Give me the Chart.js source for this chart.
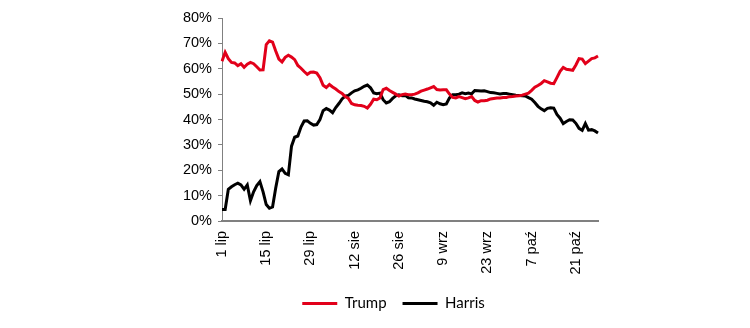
<!DOCTYPE html>
<html>
<head>
<meta charset="utf-8">
<script src="https://cdn.jsdelivr.net/npm/chart.js@4"></script>
<style>
  body { margin: 0; background: #fff; }
</style>
</head>
<body>
<canvas id="chart" width="750" height="328"></canvas>
<script>
// daily poll average, 1 lip - 28 paź
const months = [['lip', 31], ['sie', 31], ['wrz', 30], ['paź', 28]];
const tickEvery = 14;

const trump = [
  63, 66.5, 64, 62.5, 62.3, 61.2, 62, 60.6, 61.8, 62.5,
  62, 60.8, 59.5, 59.6, 69.5, 71, 70.5, 67, 63.8, 62.7,
  64.5, 65.3, 64.6, 63.6, 61.3, 60.2, 58.9, 57.8, 58.6, 58.7,
  58.3, 56.5, 53.5, 52.6, 53.8, 52.8, 52, 51, 50.3, 49,
  48.3, 46.3, 45.8, 45.6, 45.5, 45.2, 44.5, 46, 48, 47.8,
  48.5, 51.8, 52.3, 51.4, 50.7, 50, 49.2, 49.8, 50, 49.8,
  49.8, 50, 50.5, 51.2, 51.6, 52, 52.5, 53, 51.8, 51.6,
  51.7, 51.7, 50, 48.7, 48.5, 49, 48.6, 48.2, 48.5, 49,
  47.5, 46.9, 47.4, 47.4, 47.6, 48.1, 48.3, 48.5, 48.5, 48.7,
  48.7, 49, 49.1, 49.3, 49.4, 49.6, 50, 50.4, 51.5, 52.7,
  53.4, 54.2, 55.3, 54.8, 54.3, 54.1, 56.5, 59, 60.5, 59.8,
  59.6, 59.4, 61.5, 64, 63.8, 62, 63, 64, 64.3, 65
];

const harris = [
  4.5, 4.5, 12.5, 13.5, 14.3, 14.9, 14.2, 12.5, 14.2, 8,
  11.5, 14, 15.5, 11.5, 6.5, 5, 5.5, 13, 19.5, 20.5,
  18.8, 18.2, 29.5, 33, 33.5, 37, 39.4, 39.5, 38.5, 37.8,
  38, 40, 43.5, 44.3, 43.7, 42.7, 44.7, 46.3, 48.1, 49.2,
  49.5, 50.5, 51.3, 51.7, 52.3, 53.1, 53.6, 52.5, 50.5, 50.2,
  50.4, 47.8, 46.5, 47, 48.3, 49.3, 49.7, 49.4, 49.5, 48.6,
  48.5, 48.1, 47.8, 47.5, 47.2, 47, 46.6, 45.6, 46.8, 46.2,
  45.8, 46.1, 48.5, 49.8, 49.8, 50, 50.5, 50.2, 50.4, 50.1,
  51.4, 51.3, 51.2, 51.3, 51, 50.6, 50.5, 50.3, 50.1, 50.2,
  50.2, 50, 49.8, 49.6, 49.5, 49.4, 49.3, 48.6, 48, 46.7,
  45.2, 44.2, 43.5, 44.4, 44.6, 44.5, 42, 40.5, 38.4, 39.2,
  39.9, 39.8, 38.5, 36.5, 35.7, 38.4, 35.8, 36, 35.5, 34.7
];

let days = [];
months.forEach(([name, count]) => {
  for (let d = 1; d <= count; d++) days.push(d + ' ' + name);
});

const tickFont = { family: 'Liberation Sans', size: 14.5 };
const axisColor = '#808080';

// legend sits a bit right of the canvas middle
const legendShift = {
  id: 'legendShift',
  afterLayout(chart) {
    chart.legend.left += 8.5;
    chart.legend.right += 8.5;
  }
};

new Chart(document.getElementById('chart'), {
  type: 'line',
  data: {
    labels: days,
    datasets: [
      { label: 'Trump', data: trump, borderColor: '#e2001a', backgroundColor: '#e2001a',
        borderWidth: 3, pointRadius: 0, tension: 0 },
      { label: 'Harris', data: harris, borderColor: '#000', backgroundColor: '#000',
        borderWidth: 3, pointRadius: 0, tension: 0 }
    ]
  },
  plugins: [legendShift],
  options: {
    responsive: false,
    animation: false,
    devicePixelRatio: 1,
    layout: { padding: { left: 172, right: 152, top: 18, bottom: 7 } },
    plugins: {
      legend: {
        position: 'bottom',
        labels: {
          usePointStyle: true,
          pointStyle: 'line',
          pointStyleWidth: 35,
          padding: 16,
          color: '#000',
          font: { family: 'Lato', size: 15 }
        }
      },
      tooltip: { enabled: false }
    },
    scales: {
      x: {
        grid: { display: false, drawTicks: false },
        border: { color: axisColor, width: 2 },
        ticks: {
          autoSkip: false,
          maxRotation: 90,
          minRotation: 90,
          padding: 10,
          color: '#000',
          font: tickFont,
          callback: (v, i) => (i % tickEvery === 0 ? days[i] : '')
        },
        afterFit: s => { s.height = 59; }
      },
      y: {
        min: 0,
        max: 80,
        ticks: { stepSize: 10, padding: 6, color: '#000', font: tickFont, callback: v => v + '%' },
        grid: { drawOnChartArea: false, tickLength: 4, color: axisColor },
        border: { color: axisColor },
        afterFit: s => { s.width = 50; }
      }
    }
  }
});
</script>
</body>
</html>
